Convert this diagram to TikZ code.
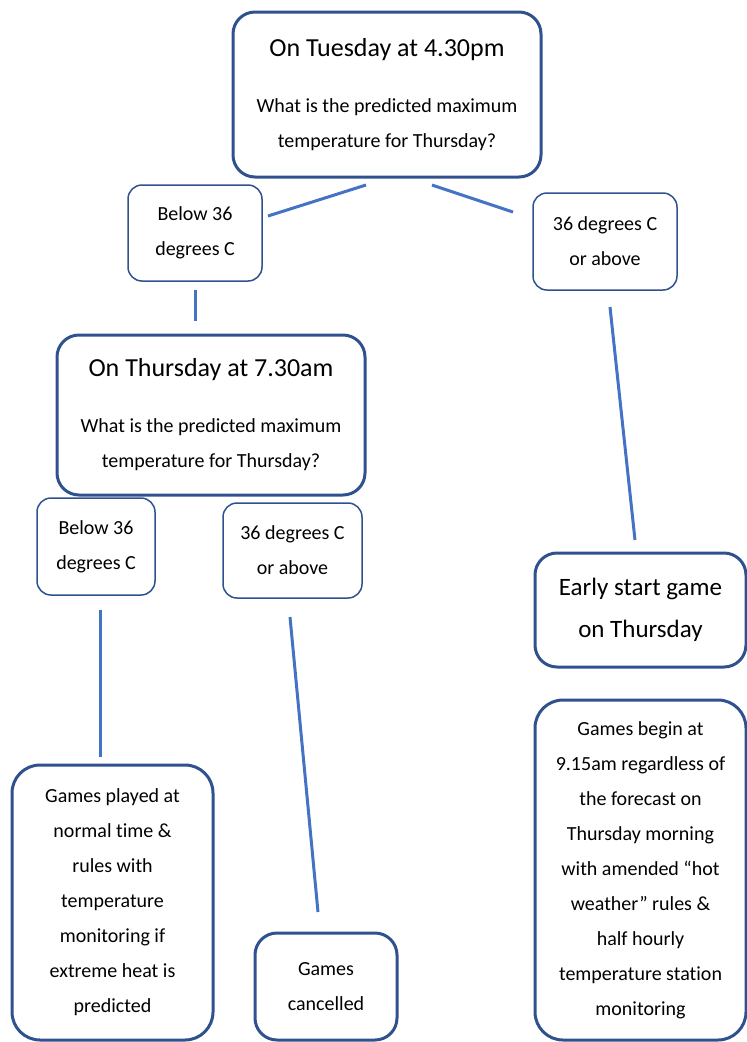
\documentclass[tikz,border=0pt]{standalone}
\usepackage{fontspec}
\setmainfont{Carlito}[Ligatures=NoCommon]
\definecolor{boxblue}{HTML}{2F528F}
\definecolor{lineblue}{HTML}{4472C4}

\begin{document}
\begin{tikzpicture}[x=1pt,y=-1pt,
  box/.style={draw=boxblue, line width=1.5pt, rounded corners=14pt, align=center,
    inner sep=0pt, font=\fontsize{20}{35}\selectfont},
  bigbox/.style={box, line width=3pt, rounded corners=22pt},
  link/.style={draw=lineblue, line width=3pt}]
  \useasboundingbox (0,0) rectangle (747,1042);

  \node [bigbox, minimum width=308, minimum height=165] (tue) at (387,94.5)
    {{\fontsize{26}{26}\selectfont On Tuesday at 4.30pm}\\[21pt]
     What is the predicted maximum\\temperature for Thursday?};
  \node [box, minimum width=134, minimum height=96] (below1) at (195,233)
    {Below 36\\degrees C};
  \node [box, minimum width=144, minimum height=97] (above1) at (605,241.5)
    {36 degrees C\\or above};
  \node [bigbox, minimum width=308, minimum height=160] (thu) at (211,415)
    {{\fontsize{26}{26}\selectfont On Thursday at 7.30am}\\[21pt]
     What is the predicted maximum\\temperature for Thursday?};
  \node [box, minimum width=118, minimum height=97] (below2) at (96,546.5)
    {Below 36\\degrees C};
  \node [box, minimum width=139, minimum height=95] (above2) at (292.5,550.5)
    {36 degrees C\\or above};
  \node [bigbox, font=\fontsize{25}{42}\selectfont, minimum width=211, minimum height=114] (early) at (640.5,610)
    {Early start game\\on Thursday};
  \node [bigbox, rounded corners=28pt, minimum width=201, minimum height=275] (normal) at (112.5,902.5)
    {Games played at\\normal time \&\\rules with\\temperature\\monitoring if\\extreme heat is\\predicted};
  \node [bigbox, minimum width=142, minimum height=107] (cancel) at (326,986.5)
    {Games\\cancelled};
  \node [bigbox, rounded corners=28pt, minimum width=211, minimum height=340] (begin) at (640.5,870)
    {Games begin at\\9.15am regardless of\\the forecast on\\Thursday morning\\with amended “hot\\weather” rules \&\\half hourly\\temperature station\\monitoring};

  \coordinate (c1a) at (366,185);  \coordinate (c1b) at (268,216);
  \coordinate (c2a) at (432,185);  \coordinate (c2b) at (513,212);
  \coordinate (c3a) at (195,290);  \coordinate (c3b) at (195,321);
  \coordinate (c4a) at (610,307);  \coordinate (c4b) at (635,540);
  \coordinate (c5a) at (100,610);  \coordinate (c5b) at (100,757);
  \coordinate (c6a) at (290,617);  \coordinate (c6b) at (318,912);
  \draw [link] (c1a) -- (c1b);
  \draw [link] (c2a) -- (c2b);
  \draw [link] (c3a) -- (c3b);
  \draw [link] (c4a) -- (c4b);
  \draw [link] (c5a) -- (c5b);
  \draw [link] (c6a) -- (c6b);
\end{tikzpicture}
\end{document}
